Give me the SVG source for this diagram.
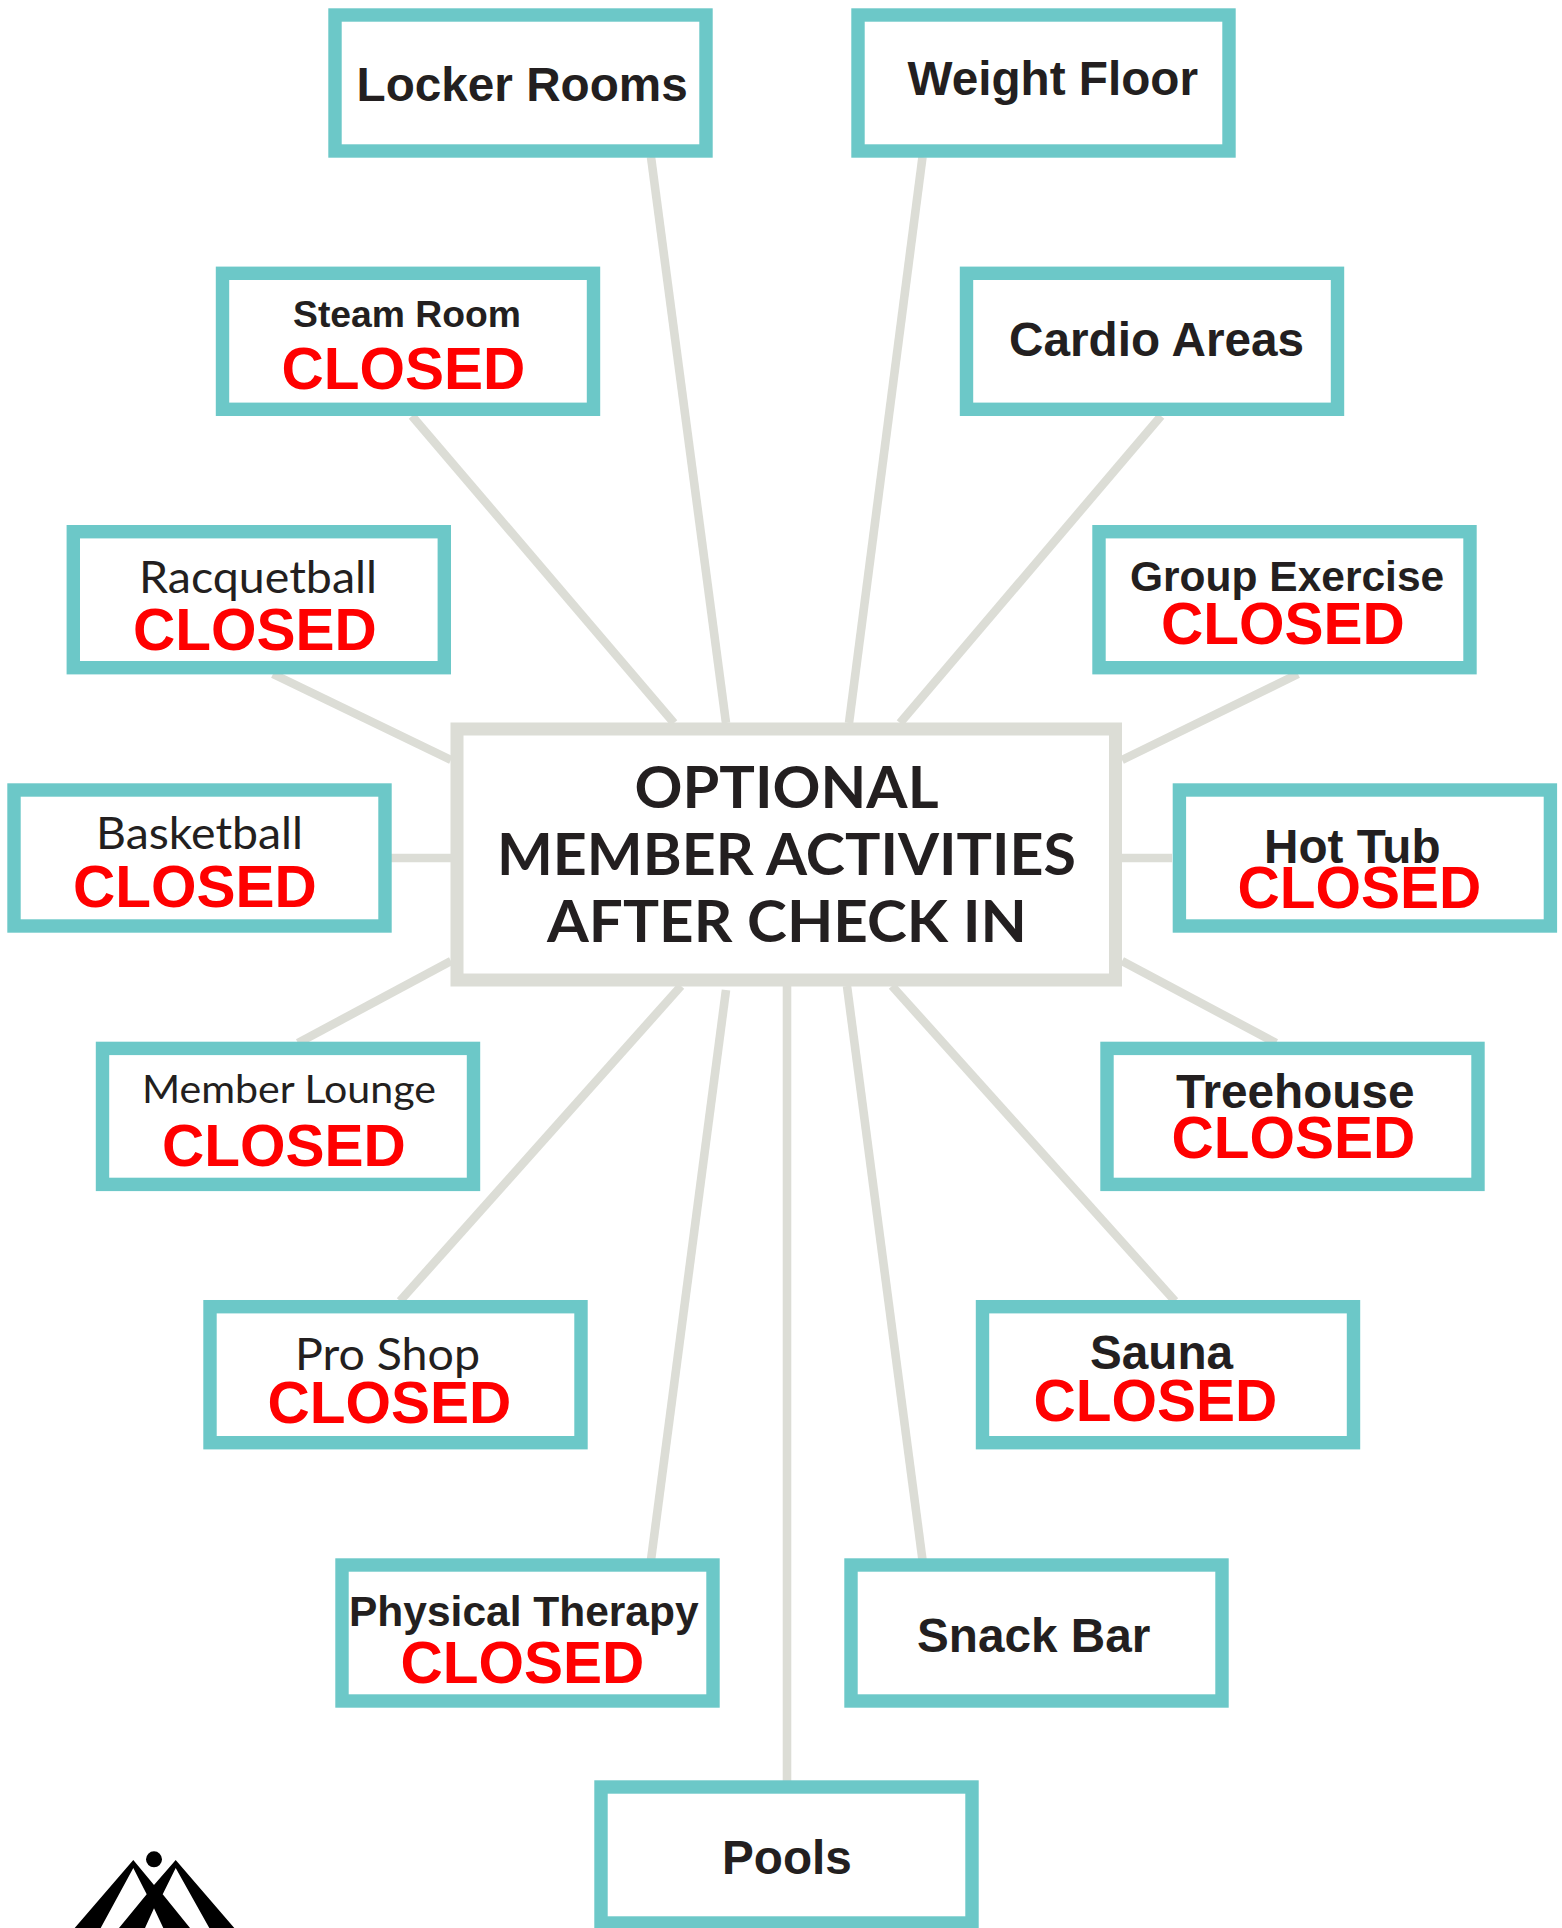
<svg xmlns="http://www.w3.org/2000/svg" width="1562" height="1928" viewBox="0 0 1562 1928">
<style>
.box{fill:#fff;stroke:#6cc8c8;stroke-width:13.4}
.hub{fill:#fff;stroke:#dcddd6;stroke-width:13}
.c line{stroke:#dcddd6;stroke-width:8.6}
text{fill:#231f20}
.b{font:700 47.7px "Liberation Sans",Arial,sans-serif}
.m{font:700 42.5px "Liberation Sans",Arial,sans-serif}
.l{font:400 44px Lato,"Liberation Sans",sans-serif}
.x{font:700 58.5px "Liberation Sans",Arial,sans-serif;fill:#f00}
.t{font:700 58px Lato,"Liberation Sans",sans-serif}
</style>
<rect width="1562" height="1928" fill="#fff"/>
<g id="connectors" class="c">
<line x1="651" y1="157" x2="726" y2="723"/>
<line x1="922.500" y1="157" x2="849" y2="723"/>
<line x1="412" y1="416" x2="674" y2="723"/>
<line x1="1161" y1="416" x2="900" y2="723"/>
<line x1="273" y1="674" x2="451" y2="760"/>
<line x1="1298" y1="674" x2="1122" y2="760"/>
<line x1="391" y1="858" x2="451" y2="858"/>
<line x1="1122" y1="858" x2="1172" y2="858"/>
<line x1="298" y1="1043" x2="451" y2="961"/>
<line x1="1276" y1="1043" x2="1122" y2="961"/>
<line x1="400" y1="1301" x2="681" y2="986"/>
<line x1="1175" y1="1301" x2="892" y2="986"/>
<line x1="651" y1="1560" x2="726" y2="990"/>
<line x1="922.500" y1="1560" x2="847" y2="986"/>
<line x1="787" y1="986" x2="787" y2="1781"/>
</g>
<g id="hub"><rect class="hub" x="457" y="729" width="658.500" height="251"/>
<text class="t" x="634.500" y="808" textLength="304" lengthAdjust="spacingAndGlyphs">OPTIONAL</text>
<text class="t" x="497" y="875" textLength="579" lengthAdjust="spacingAndGlyphs">MEMBER ACTIVITIES</text>
<text class="t" x="547" y="942" textLength="480" lengthAdjust="spacingAndGlyphs">AFTER CHECK IN</text></g>
<g id="locker"><rect class="box" x="335" y="15" width="371" height="136"/><text class="b" x="356.500" y="100.700">Locker Rooms</text></g>
<g id="weight"><rect class="box" x="858" y="15" width="371" height="136"/><text class="b" x="907.500" y="94.700">Weight Floor</text></g>
<g id="steam"><rect class="box" x="222.500" y="273.300" width="371" height="136"/><text class="b" style="font-size:37.300px" x="293" y="327">Steam Room</text><text class="x" x="281.500" y="389">CLOSED</text></g>
<g id="cardio"><rect class="box" x="966.500" y="273.300" width="371" height="136"/><text class="b" x="1009" y="355.500">Cardio Areas</text></g>
<g id="racquetball"><rect class="box" x="73.300" y="531.700" width="371" height="136"/><text class="l" x="139" y="593" textLength="238" lengthAdjust="spacingAndGlyphs">Racquetball</text><text class="x" x="133" y="650">CLOSED</text></g>
<g id="group"><rect class="box" x="1099" y="531.700" width="371" height="136"/><text class="m" x="1130" y="591">Group Exercise</text><text class="x" x="1161" y="644">CLOSED</text></g>
<g id="basketball"><rect class="box" x="14" y="790" width="371" height="136"/><text class="l" x="96" y="849" textLength="207" lengthAdjust="spacingAndGlyphs">Basketball</text><text class="x" x="73" y="907">CLOSED</text></g>
<g id="hottub"><rect class="box" x="1179.400" y="790" width="371" height="136"/><text class="b" x="1264" y="863">Hot Tub</text><text class="x" x="1237.500" y="908">CLOSED</text></g>
<g id="lounge"><rect class="box" x="102.500" y="1048.400" width="371" height="136"/><text class="l" style="font-size:38px" x="142" y="1103" textLength="294" lengthAdjust="spacingAndGlyphs">Member Lounge</text><text class="x" x="162" y="1166">CLOSED</text></g>
<g id="treehouse"><rect class="box" x="1107" y="1048.400" width="371" height="136"/><text class="b" x="1176" y="1108">Treehouse</text><text class="x" x="1171.500" y="1158">CLOSED</text></g>
<g id="proshop"><rect class="box" x="210" y="1306.700" width="371" height="136"/><text class="l" x="295" y="1370" textLength="185" lengthAdjust="spacingAndGlyphs">Pro Shop</text><text class="x" x="267.500" y="1423">CLOSED</text></g>
<g id="sauna"><rect class="box" x="982.500" y="1306.700" width="371" height="136"/><text class="b" x="1090" y="1369">Sauna</text><text class="x" x="1033.500" y="1421">CLOSED</text></g>
<g id="therapy"><rect class="box" x="342" y="1565" width="371" height="136"/><text class="m" x="349" y="1626">Physical Therapy</text><text class="x" x="400.500" y="1683">CLOSED</text></g>
<g id="snack"><rect class="box" x="851" y="1565" width="371" height="136"/><text class="b" x="917" y="1652">Snack Bar</text></g>
<g id="pools"><rect class="box" x="601" y="1787" width="371" height="136"/><text class="b" x="722" y="1873.500">Pools</text></g>
<g id="logo"><circle cx="154" cy="1859.300" r="8"/>
<polygon points="133.300,1860 154,1885 162.700,1894.300 190,1928 163.300,1928 154,1908.300 145,1928 119,1928 146.700,1894.300 133.300,1868 100.700,1928 74.700,1928"/>
<polygon points="175.700,1860 234.300,1928 209.300,1928 175.700,1868 162.700,1894.300 146.700,1894.300 154,1885"/></g>
</svg>
